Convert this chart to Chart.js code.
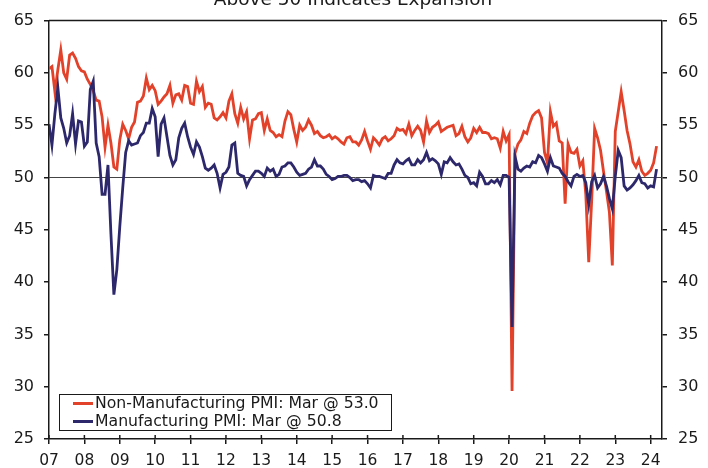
<!DOCTYPE html>
<html lang="en">
<head>
    <meta charset="UTF-8">
    <title>PMI</title>
    <script src="https://cdn.jsdelivr.net/npm/chart.js"></script>
    <style>
        body { margin: 0; background: #fff; }
        canvas { display: block; }
    </style>
</head>
<body>
    <canvas id="pmi-chart" width="708" height="468"></canvas>

    <script>
        // monthly, Jan 2007 - Mar 2024
        const startYear = 2007;
        const yearTicks = [2007, 2008, 2009, 2010, 2011, 2012, 2013, 2014, 2015, 2016, 2017, 2018, 2019, 2020, 2021, 2022, 2023, 2024];
        const yTicks = [25, 30, 35, 40, 45, 50, 55, 60, 65];
        const titleText = 'Above 50 Indicates Expansion';
        const nonMfgLabel = 'Non-Manufacturing PMI: Mar @ 53.0';
        const mfgLabel = 'Manufacturing PMI: Mar @ 50.8';

        const nonMfg = [
            60.4, 60.6, 58.2, 60.3, 62.2, 60.0, 59.4, 61.7, 61.9, 61.4, 60.6, 60.2,
            60.1, 59.4, 58.9, 58.3, 57.4, 57.3, 55.8, 52.9, 55.0, 53.3, 51.0, 50.8,
            53.6, 55.1, 54.5, 53.7, 54.8, 55.3, 57.2, 57.3, 57.8, 59.5, 58.4, 58.8,
            58.3, 57.0, 57.3, 57.7, 58.0, 58.8, 57.1, 57.9, 58.0, 57.4, 58.8, 58.7,
            57.1, 57.0, 59.2, 58.2, 58.7, 56.7, 57.1, 57.0, 55.7, 55.5, 55.8, 56.2,
            55.7, 57.3, 58.0, 56.1, 55.2, 56.7, 55.6, 56.3, 53.7, 55.5, 55.6, 56.1,
            56.2, 54.5, 55.6, 54.5, 54.3, 53.9, 54.1, 53.9, 55.4, 56.3, 56.0, 54.6,
            53.4, 55.0, 54.5, 54.8, 55.5, 55.0, 54.2, 54.4, 54.0, 53.8, 53.9, 54.1,
            53.7, 53.9, 53.7, 53.4, 53.2, 53.8, 53.9, 53.4, 53.4, 53.1, 53.6, 54.4,
            53.5, 52.7, 53.8, 53.5, 53.1, 53.7, 53.9, 53.5, 53.7, 54.0, 54.7, 54.5,
            54.6, 54.2, 55.1, 54.0, 54.5, 54.9, 54.5, 53.4, 55.4, 54.3, 54.8, 55.0,
            55.3, 54.4, 54.6, 54.8, 54.9, 55.0, 54.0, 54.2, 54.9, 53.9, 53.4, 53.8,
            54.7, 54.3, 54.8, 54.3, 54.3, 54.2, 53.7, 53.8, 53.7, 52.8, 54.4, 53.5,
            54.1, 29.6, 52.3, 53.2, 53.6, 54.4, 54.2, 55.2, 55.9, 56.2, 56.4, 55.7,
            52.4, 51.4, 56.3, 54.9, 55.2, 53.5, 53.3, 47.5, 53.2, 52.4, 52.3, 52.7,
            51.1, 51.6, 48.4, 41.9, 47.8, 54.7, 53.8, 52.6, 50.6, 48.7, 46.7, 41.6,
            54.4, 56.3, 58.2, 56.4, 54.5, 53.2, 51.5, 51.0, 51.7, 50.6, 50.2, 50.4,
            50.7, 51.4, 53.0
        ];

        const mfg = [
            55.1, 53.1, 56.1, 58.6, 55.7, 54.7, 53.3, 54.0, 56.1, 53.2, 55.4, 55.3,
            53.0, 53.4, 58.4, 59.2, 53.3, 52.0, 48.4, 48.4, 51.2, 44.6, 38.8, 41.2,
            45.3, 49.0, 52.4, 53.5, 53.1, 53.2, 53.3, 54.0, 54.3, 55.2, 55.2, 56.6,
            55.8, 52.0, 55.1, 55.7, 53.9, 52.1, 51.2, 51.7, 53.8, 54.7, 55.2, 53.9,
            52.9, 52.2, 53.4, 52.9, 52.0, 50.9, 50.7, 50.9, 51.2, 50.4, 49.0, 50.3,
            50.5, 51.0, 53.1, 53.3, 50.4, 50.2, 50.1, 49.2, 49.8, 50.2, 50.6, 50.6,
            50.4, 50.1, 50.9, 50.6, 50.8, 50.1, 50.3, 51.0, 51.1, 51.4, 51.4, 51.0,
            50.5, 50.2, 50.3, 50.4, 50.8, 51.0, 51.7, 51.1, 51.1, 50.8, 50.3, 50.1,
            49.8, 49.9, 50.1, 50.1, 50.2, 50.2, 50.0, 49.7, 49.8, 49.8, 49.6, 49.7,
            49.4, 49.0, 50.2, 50.1, 50.1, 50.0, 49.9, 50.4, 50.4, 51.2, 51.7, 51.4,
            51.3, 51.6, 51.8, 51.2, 51.2, 51.7, 51.4, 51.7, 52.4, 51.6, 51.8, 51.6,
            51.3, 50.3, 51.5, 51.4, 51.9, 51.5, 51.2, 51.3, 50.8, 50.2, 50.0, 49.4,
            49.5, 49.2, 50.5, 50.1, 49.4, 49.4, 49.7, 49.5, 49.8, 49.3, 50.2, 50.2,
            50.0, 35.7, 52.0, 50.8, 50.6, 50.9, 51.1, 51.0, 51.5, 51.4, 52.1, 51.9,
            51.3, 50.6, 51.9, 51.1, 51.0, 50.9, 50.4, 50.1, 49.6, 49.2, 50.1, 50.3,
            50.1, 50.2, 49.5, 47.4, 49.6, 50.2, 49.0, 49.4, 50.1, 49.2, 48.0, 47.0,
            50.1, 52.6, 51.9, 49.2, 48.8, 49.0, 49.3, 49.7, 50.2, 49.5, 49.4, 49.0,
            49.2, 49.1, 50.8
        ];

        const RED = '#E2422A';
        const NAVY = '#2C286B';
        const INK = '#1a1a1a';
        const FONT = 'DejaVu Sans, Verdana, sans-serif';

        function toPoints(values) {
            return values.map((v, i) => ({ x: startYear + i / 12, y: v }));
        }

        const framePlugin = {
            id: 'frame',
            beforeDatasetsDraw(chart) {
                const { ctx, chartArea: a, scales } = chart;
                const y50 = scales.y.getPixelForValue(50);
                ctx.save();
                ctx.strokeStyle = '#444';
                ctx.lineWidth = 1;
                ctx.beginPath();
                ctx.moveTo(a.left, Math.round(y50) + 0.5);
                ctx.lineTo(a.right, Math.round(y50) + 0.5);
                ctx.stroke();
                ctx.restore();
            },
            afterDraw(chart) {
                const { ctx, chartArea: a, scales } = chart;
                ctx.save();
                // top border
                ctx.strokeStyle = INK;
                ctx.lineWidth = 1.5;
                ctx.beginPath();
                ctx.moveTo(a.left, a.top);
                ctx.lineTo(a.right, a.top);
                ctx.stroke();
                // inward part of x ticks
                yearTicks.forEach(yr => {
                    const px = scales.x.getPixelForValue(yr);
                    ctx.beginPath();
                    ctx.moveTo(px, a.bottom);
                    ctx.lineTo(px, a.bottom - 4);
                    ctx.stroke();
                });

                // title, cut off at top
                ctx.fillStyle = INK;
                ctx.font = '18.5px ' + FONT;
                ctx.textAlign = 'center';
                ctx.textBaseline = 'alphabetic';
                ctx.fillText(titleText, 353, 5);

                // legend box
                const bx = 59, by = 394, bw = 332, bh = 36;
                ctx.fillStyle = '#fff';
                ctx.fillRect(bx, by, bw, bh);
                ctx.lineWidth = 1;
                ctx.strokeStyle = INK;
                ctx.strokeRect(bx + 0.5, by + 0.5, bw, bh);
                const rows = [[RED, nonMfgLabel], [NAVY, mfgLabel]];
                ctx.font = '15.7px ' + FONT;
                ctx.textAlign = 'left';
                ctx.textBaseline = 'middle';
                rows.forEach((r, i) => {
                    const cy = by + 9.5 + i * 18;
                    ctx.strokeStyle = r[0];
                    ctx.lineWidth = 3;
                    ctx.beginPath();
                    ctx.moveTo(73, cy);
                    ctx.lineTo(93, cy);
                    ctx.stroke();
                    ctx.fillStyle = INK;
                    ctx.fillText(r[1], 95, cy + 0.5);
                });
                ctx.restore();
            }
        };

        const axisCommon = {
            min: 25,
            max: 65,
            afterBuildTicks: scale => { scale.ticks = yTicks.map(v => ({ value: v })); },
            grid: { drawOnChartArea: false, drawTicks: true, tickLength: 5, color: INK, lineWidth: 1.5 },
            border: { display: true, color: INK, width: 1.5 }
        };

        new Chart(document.getElementById('pmi-chart').getContext('2d'), {
            type: 'line',
            data: {
                datasets: [
                    {
                        label: nonMfgLabel,
                        data: toPoints(nonMfg),
                        borderColor: RED,
                        borderWidth: 2.8,
                        pointRadius: 0,
                        tension: 0,
                        order: 1
                    },
                    {
                        label: mfgLabel,
                        data: toPoints(mfg),
                        borderColor: NAVY,
                        borderWidth: 2.8,
                        pointRadius: 0,
                        tension: 0,
                        order: 0
                    }
                ]
            },
            options: {
                responsive: false,
                animation: false,
                devicePixelRatio: 1,
                layout: { padding: { top: 15, left: 0, right: 0, bottom: 0 } },
                plugins: {
                    legend: { display: false },
                    tooltip: { enabled: false },
                    title: { display: false }
                },
                scales: {
                    x: {
                        type: 'linear',
                        min: 2007,
                        max: 2024.32,
                        afterBuildTicks: scale => { scale.ticks = yearTicks.map(v => ({ value: v })); },
                        afterFit: scale => { scale.height = 29; },
                        ticks: {
                            callback: v => String(v).slice(2),
                            font: { family: FONT, size: 15.5 },
                            color: INK,
                            padding: 8,
                            maxRotation: 0,
                            autoSkip: false
                        },
                        grid: { drawOnChartArea: false, drawTicks: true, tickLength: 5, color: INK, lineWidth: 1.5 },
                        border: { display: true, color: INK, width: 1.5 }
                    },
                    y: {
                        ...axisCommon,
                        position: 'left',
                        afterFit: scale => { scale.width = 49; },
                        ticks: { font: { family: FONT, size: 16 }, color: INK, padding: 10 }
                    },
                    y1: {
                        ...axisCommon,
                        position: 'right',
                        afterFit: scale => { scale.width = 46; },
                        ticks: { font: { family: FONT, size: 16 }, color: INK, padding: 11 }
                    }
                }
            },
            plugins: [framePlugin]
        });
    </script>
</body>
</html>
